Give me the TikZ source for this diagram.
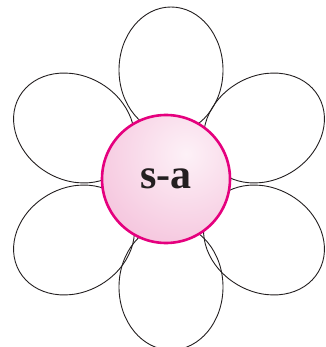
\documentclass[tikz,border=0pt]{standalone}
\usepackage{fontspec}
\setmainfont{Liberation Serif}
\definecolor{rim}{HTML}{E5007E}
\definecolor{pinkout}{HTML}{EE9DC6}
\definecolor{pinkin}{HTML}{FDF1F7}
\definecolor{ink}{HTML}{231F20}
\begin{document}
\begin{tikzpicture}[x=1pt,y=-1pt,
  petal/.style={draw=ink, line width=0.9pt},
  hubstyle/.style={circle, minimum size=128pt, inner sep=0pt, draw=rim, line width=2.6pt,
    text=ink, font=\bfseries\fontsize{42}{42}\selectfont,
    path picture={\shade[inner color=pinkin, outer color=pinkout]
      ([xshift=20pt,yshift=25pt]path picture bounding box.center) circle (190pt);}}]
\useasboundingbox (0,0) rectangle (325,347);
% petals
\draw[petal] (171,70) ellipse [x radius=52, y radius=63];
\draw[petal] (171,287) ellipse [x radius=52, y radius=63];
\draw[petal, rotate around={-30:(74,128)}] (74,128) ellipse [x radius=63, y radius=52];
\draw[petal, rotate around={30:(264,128)}] (264,128) ellipse [x radius=63, y radius=52];
\draw[petal, rotate around={30:(74,240)}] (74,240) ellipse [x radius=63, y radius=52];
\draw[petal, rotate around={-30:(264,240)}] (264,240) ellipse [x radius=63, y radius=52];
% centre
\node[hubstyle] (hub) at (166,179) {\raisebox{-5pt}{s-a}};
\end{tikzpicture}
\end{document}
